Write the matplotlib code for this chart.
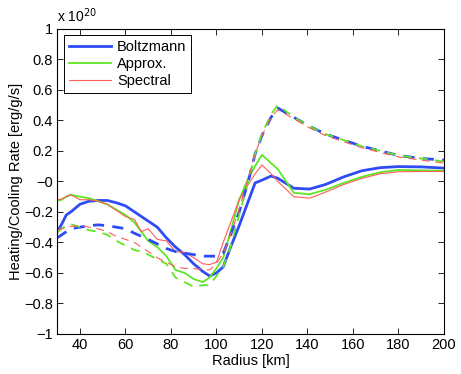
import numpy as np
import matplotlib
matplotlib.use('Agg')
import matplotlib.pyplot as plt

plt.rcParams['font.family'] = ['Liberation Sans', 'DejaVu Sans']
plt.rcParams['font.size'] = 10.5

# radius grid [km]
radius = [30, 32, 34, 36, 40, 44, 48, 52, 56, 60, 64, 67, 70, 74, 78, 82, 86, 90, 94, 97,
          100, 103, 106, 110, 114, 117, 120, 124, 127, 134, 141, 148, 156, 164, 172, 180, 190, 200]

# heating/cooling rates in units of 1e20 erg/g/s
boltz_solid = [-0.33, -0.28, -0.22, -0.20, -0.15, -0.13, -0.125, -0.125, -0.14, -0.16, -0.20, -0.23,
               -0.26, -0.30, -0.37, -0.43, -0.48, -0.54, -0.59, -0.62, -0.60, -0.56, -0.44, -0.29,
               -0.13, -0.01, 0.008, 0.035, 0.02, -0.045, -0.05, -0.02, 0.03, 0.07, 0.09, 0.097, 0.095, 0.087]
approx_solid = [-0.128, -0.12, -0.10, -0.088, -0.10, -0.11, -0.13, -0.15, -0.185, -0.22, -0.27, -0.33,
                -0.39, -0.43, -0.49, -0.58, -0.60, -0.64, -0.66, -0.63, -0.57, -0.50, -0.34, -0.12,
                0.02, 0.10, 0.174, 0.12, 0.08, -0.075, -0.084, -0.055, -0.01, 0.03, 0.06, 0.075, 0.072, 0.07]
spec_solid = [-0.12, -0.115, -0.10, -0.088, -0.12, -0.12, -0.13, -0.15, -0.19, -0.23, -0.25, -0.33,
              -0.31, -0.38, -0.39, -0.46, -0.465, -0.50, -0.54, -0.545, -0.53, -0.40, -0.28, -0.12,
              -0.02, 0.05, 0.108, 0.05, 0.0, -0.10, -0.11, -0.07, -0.02, 0.02, 0.05, 0.063, 0.065, 0.065]

boltz_dash = [-0.37, -0.35, -0.33, -0.31, -0.30, -0.29, -0.285, -0.29, -0.30, -0.31, -0.34, -0.36,
              -0.38, -0.41, -0.44, -0.46, -0.47, -0.48, -0.49, -0.49, -0.49, -0.47, -0.36, -0.20,
              0.00, 0.18, 0.30, 0.42, 0.48, 0.42, 0.36, 0.31, 0.27, 0.23, 0.20, 0.17, 0.15, 0.14]
approx_dash = [-0.33, -0.31, -0.29, -0.28, -0.30, -0.32, -0.33, -0.35, -0.39, -0.42, -0.45, -0.46,
               -0.48, -0.51, -0.54, -0.63, -0.66, -0.69, -0.68, -0.68, -0.62, -0.56, -0.44, -0.22,
               0.00, 0.18, 0.31, 0.44, 0.50, 0.42, 0.36, 0.31, 0.27, 0.23, 0.20, 0.17, 0.15, 0.13]
spec_dash = [-0.32, -0.31, -0.30, -0.295, -0.29, -0.30, -0.31, -0.33, -0.36, -0.38, -0.40, -0.43,
             -0.46, -0.50, -0.53, -0.56, -0.57, -0.57, -0.58, -0.58, -0.54, -0.47, -0.36, -0.18,
             0.02, 0.18, 0.30, 0.42, 0.47, 0.41, 0.35, 0.30, 0.26, 0.22, 0.19, 0.16, 0.14, 0.12]

c_boltz = '#2E4BF5'
c_approx = '#5EE622'
c_spec = '#FF5C5C'

fig = plt.figure(figsize=(4.61, 3.74), dpi=100)
ax = fig.add_axes([0.124, 0.107, 0.839, 0.816])

ax.plot(radius, boltz_solid, color=c_boltz, lw=2.0, label='Boltzmann')
ax.plot(radius, approx_solid, color=c_approx, lw=1.3, label='Approx.')
ax.plot(radius, spec_solid, color=c_spec, lw=0.8, label='Spectral')
ax.plot(radius, boltz_dash, color=c_boltz, lw=2.0, ls=(0, (4, 3)))
ax.plot(radius, approx_dash, color=c_approx, lw=1.3, ls=(0, (5, 4)))
ax.plot(radius, spec_dash, color=c_spec, lw=0.8, ls=(0, (7, 5)))

ax.set_xlim(30, 200)
ax.set_ylim(-1, 1)
ax.set_xticks(np.arange(40, 201, 20))
yt = np.round(np.arange(-1, 1.01, 0.2), 1)
ax.set_yticks(yt)
ax.set_yticklabels([('%g' % v).replace('-', '\u2212') for v in yt])
ax.tick_params(direction='in', length=4, width=0.6, top=True, right=True, colors='black', pad=3)
for s in ax.spines.values():
    s.set_linewidth(0.8)

ax.set_xlabel('Radius [km]', labelpad=1)
ax.set_ylabel('Heating/Cooling Rate [erg/g/s]', labelpad=1)
ax.text(0.0, 1.012, 'x 10$^{20}$', transform=ax.transAxes, ha='left', va='bottom', fontsize=10)

leg = ax.legend(loc='upper left', fancybox=False, framealpha=1,
                edgecolor='black', borderpad=0.35, labelspacing=0.2, handlelength=2.9,
                handletextpad=0.4, borderaxespad=0.45)
leg.get_frame().set_linewidth(0.7)

fig.savefig('out.png', dpi=100)
